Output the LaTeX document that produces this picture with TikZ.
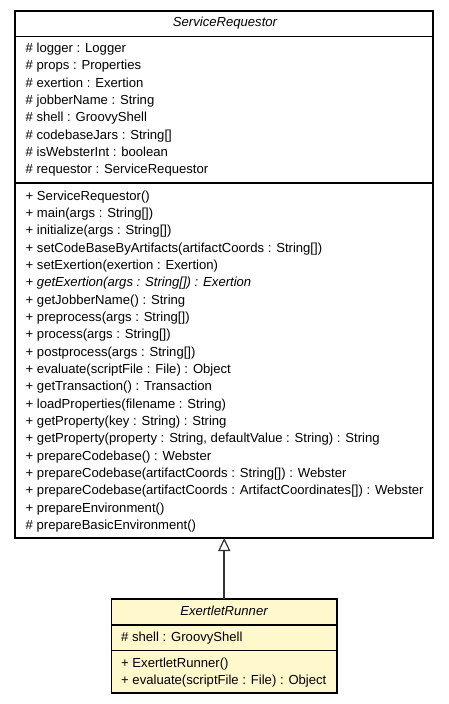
\documentclass[tikz,border=0pt]{standalone}
\usepackage{fontspec}
\setmainfont{Liberation Sans}
\usetikzlibrary{arrows.meta}
\definecolor{classfill}{RGB}{255,248,204}
\definecolor{linegray}{RGB}{50,50,50}
\tikzset{
  classbox/.style={draw=black, line width=1.2pt, anchor=north west, inner sep=0pt, outer sep=0pt},
  sepline/.style={draw=black, line width=1.2pt},
  member/.style={anchor=base west, inner sep=0pt, font=\fontsize{13.1}{15}\selectfont},
  ctitle/.style={anchor=base, inner sep=0pt, font=\fontsize{13.1}{15}\selectfont\itshape},
  generalization/.style={draw=linegray, line width=1.6pt, -{Triangle[open, length=13pt, width=12pt, fill=white, line width=1.2pt]}},
}
\begin{document}
\begin{tikzpicture}[x=1pt, y=-1pt]
\useasboundingbox (0,0) rectangle (448,704);
% ServiceRequestor
\node[classbox, fill=white, minimum width=418pt, minimum height=527pt] (sr) at (15,11) {};
\node[ctitle] (srt) at (225,27) {ServiceRequestor};
\draw[sepline] (15,36.7) -- (433,36.7);
\draw[sepline] (15,183) -- (433,183);
\foreach \t [count=\i from 0] in {
  {\# logger : Logger},
  {\# props : Properties},
  {\# exertion : Exertion},
  {\# jobberName : String},
  {\# shell : GroovyShell},
  {\# codebaseJars : String[]},
  {\# isWebsterInt : boolean},
  {\# requestor : ServiceRequestor}}
  \node[member] (sra\i) at (25.5,52.5+\i*17.35) {\t};
\foreach \t [count=\i from 0] in {
  {+ ServiceRequestor()},
  {+ main(args : String[])},
  {+ initialize(args : String[])},
  {+ setCodeBaseByArtifacts(artifactCoords : String[])},
  {+ setExertion(exertion : Exertion)},
  {\itshape + getExertion(args : String[]) : Exertion},
  {+ getJobberName() : String},
  {+ preprocess(args : String[])},
  {+ process(args : String[])},
  {+ postprocess(args : String[])},
  {+ evaluate(scriptFile : File) : Object},
  {+ getTransaction() : Transaction},
  {+ loadProperties(filename : String)},
  {+ getProperty(key : String) : String},
  {+ getProperty(property : String, defaultValue : String) : String},
  {+ prepareCodebase() : Webster},
  {+ prepareCodebase(artifactCoords : String[]) : Webster},
  {+ prepareCodebase(artifactCoords : ArtifactCoordinates[]) : Webster},
  {+ prepareEnvironment()},
  {\# prepareBasicEnvironment()}}
  \node[member] (srm\i) at (25.5,200+\i*17.34) {\t};
% ExertletRunner
\node[classbox, fill=classfill, minimum width=225.5pt, minimum height=94pt] (er) at (111.5,599) {};
\node[ctitle] (ert) at (224,615.5) {ExertletRunner};
\draw[sepline] (111.5,625) -- (337,625);
\draw[sepline] (111.5,650.7) -- (337,650.7);
\node[member] (era0) at (121,641) {\# shell : GroovyShell};
\node[member] (erm0) at (121,667.5) {+ ExertletRunner()};
\node[member] (erm1) at (121,684) {+ evaluate(scriptFile : File) : Object};
% generalization
\draw[generalization] (er.north) -- (er.north |- sr.south);
\end{tikzpicture}
\end{document}
